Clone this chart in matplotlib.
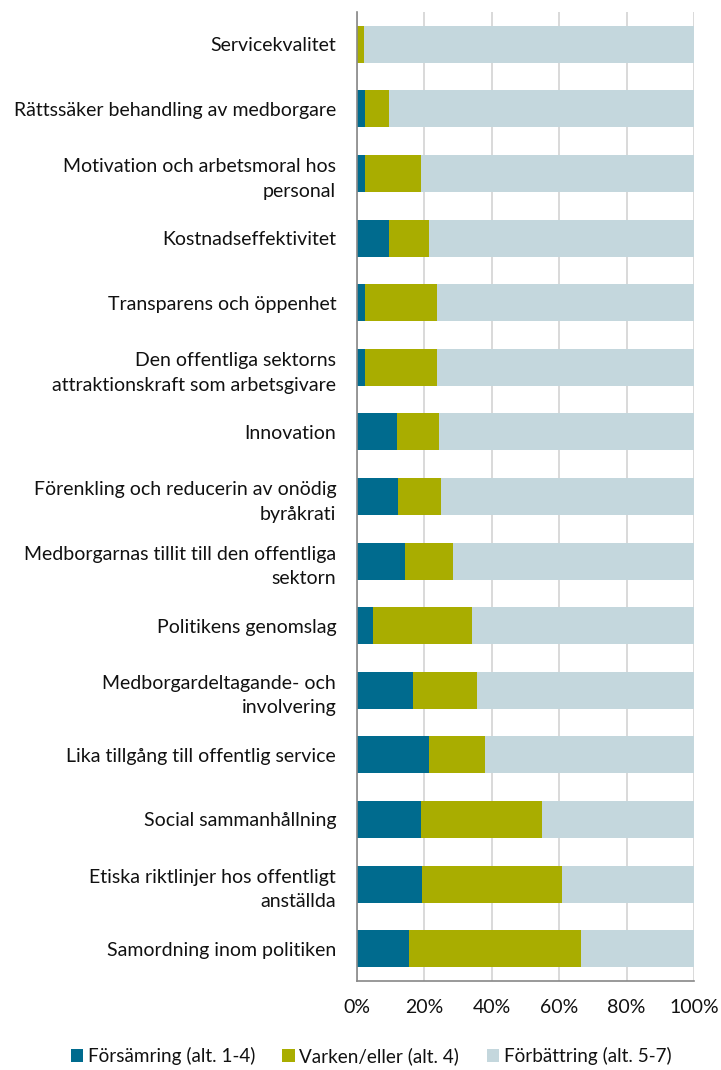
import matplotlib.pyplot as plt
import numpy as np
from matplotlib.patches import Patch

plt.rcParams['font.family'] = ['Lato', 'DejaVu Sans']

# Data (percent)
categories = [
    "Servicekvalitet",
    "Rättssäker behandling av medborgare",
    "Motivation och arbetsmoral hos\npersonal",
    "Kostnadseffektivitet",
    "Transparens och öppenhet",
    "Den offentliga sektorns\nattraktionskraft som arbetsgivare",
    "Innovation",
    "Förenkling och reducerin av onödig\nbyråkrati",
    "Medborgarnas tillit till den offentliga\nsektorn",
    "Politikens genomslag",
    "Medborgardeltagande- och\ninvolvering",
    "Lika tillgång till offentlig service",
    "Social sammanhållning",
    "Etiska riktlinjer hos offentligt\nanställda",
    "Samordning inom politiken",
]
forsamring = [0.0, 2.3, 2.3, 9.5, 2.3, 2.3, 12.0, 12.3, 14.1, 4.8, 16.6, 21.4, 19.0, 19.4, 15.3]
varken = [2.2, 7.3, 16.7, 11.9, 21.5, 21.5, 12.4, 12.7, 14.4, 29.4, 19.0, 16.6, 35.8, 41.5, 51.3]
forbattring = [100 - a - b for a, b in zip(forsamring, varken)]

legend_labels = ["Försämring (alt. 1-4)", "Varken/eller (alt. 4)", "Förbättring (alt. 5-7)"]
colors = ["#006B8E", "#A9AD00", "#C4D7DD"]

fig = plt.figure(figsize=(7.21, 10.70), dpi=100)
ax = fig.add_axes([357 / 721, 1 - 981 / 1070, 337 / 721, 969 / 1070])

y = np.arange(len(categories))
left = np.zeros(len(categories))
for vals, col in zip([forsamring, varken, forbattring], colors):
    ax.barh(y, vals, left=left, height=0.57, color=col, zorder=3)
    left += np.array(vals)

ax.set_ylim(len(categories) - 0.5, -0.5)
ax.set_xlim(0, 100)
ax.set_xticks(np.arange(0, 101, 20))
ax.set_xticklabels([f"{v}%" for v in range(0, 101, 20)], fontsize=14, color="#111111")
ax.set_yticks(y)
ax.set_yticklabels(categories, fontsize=14, color="#111111", linespacing=1.55)
ax.tick_params(axis='both', length=0)
ax.tick_params(axis='y', pad=15)
ax.tick_params(axis='x', pad=13)

ax.grid(axis='x', color="#D9D9D9", linewidth=1.4, zorder=0)
for s in ['top', 'right']:
    ax.spines[s].set_visible(False)
ax.spines['left'].set_color("#888888")
ax.spines['left'].set_linewidth(1.2)
ax.spines['bottom'].set_color("#888888")
ax.spines['bottom'].set_linewidth(1.2)
ax.spines['left'].set_zorder(4)

handles = [Patch(facecolor=c, edgecolor='none') for c in colors]
fig.legend(handles, legend_labels, loc='center', bbox_to_anchor=(371 / 721, 1 - 1056 / 1070),
           ncol=3, frameon=False, fontsize=13.6, handlelength=0.64, handleheight=0.64,
           handletextpad=0.26, columnspacing=1.45, labelcolor="#111111",
           borderpad=0, borderaxespad=0)

fig.savefig("out.png", dpi=100)
